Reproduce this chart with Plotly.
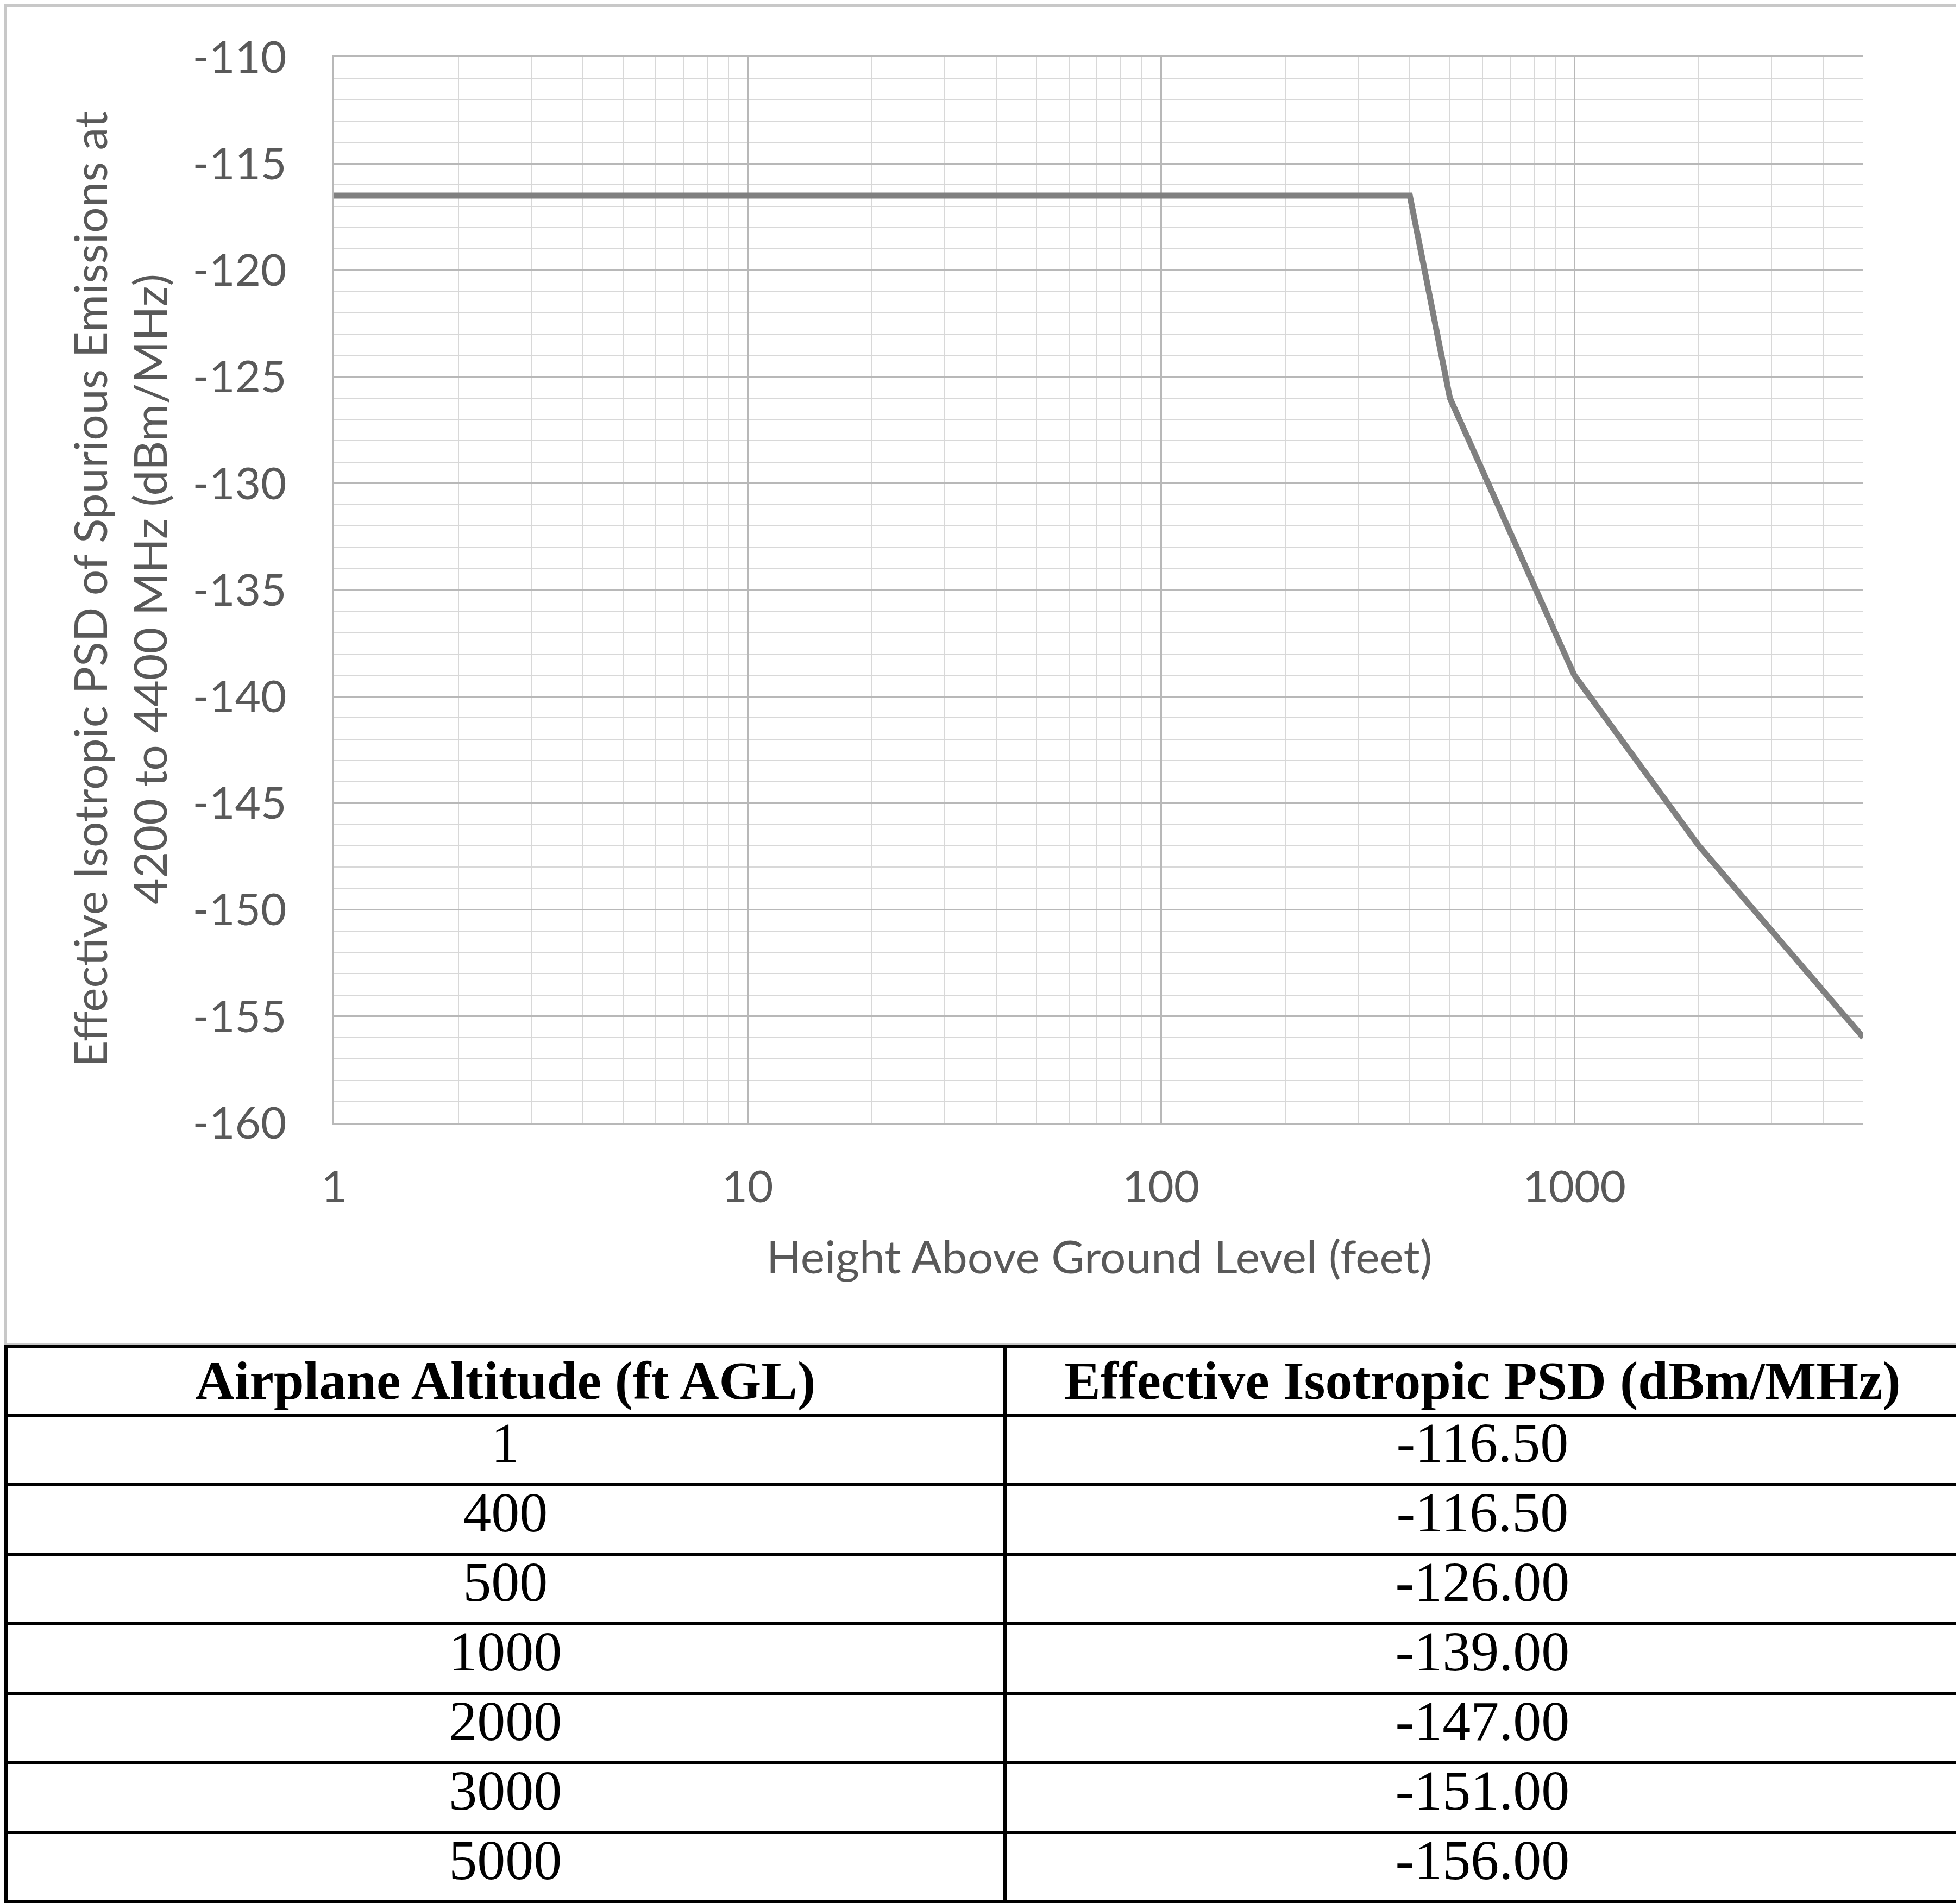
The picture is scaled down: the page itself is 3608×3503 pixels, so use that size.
import math
import plotly.graph_objects as go

# data (from the table under the chart)
altitude_ft = [1, 400, 500, 1000, 2000, 3000, 5000]
psd_dbm_mhz = [-116.5, -116.5, -126.0, -139.0, -147.0, -151.0, -156.0]
y_ticks = [-110, -115, -120, -125, -130, -135, -140, -145, -150, -155, -160]
x_ticks = [1, 10, 100, 1000]

table_header = ["<b>Airplane Altitude (ft AGL)</b>", "<b>Effective Isotropic PSD (dBm/MHz)</b>"]
alt_text = [str(a) for a in altitude_ft]
psd_text = ["%.2f" % v for v in psd_dbm_mhz]

W, H = 3608, 3503
chart_font = "Lato"
table_font = "Liberation Serif"
major = "#b8b8b8"
minor = "#d8d8d8"

fig = go.Figure()

fig.add_trace(go.Scatter(
    x=altitude_ft, y=psd_dbm_mhz,
    mode="lines",
    line=dict(color="#808080", width=11),
    showlegend=False,
    xaxis="x", yaxis="y"))

fig.add_trace(go.Table(
    domain=dict(x=[0.0008, 0.9978], y=[0.0005, 1 - 2470 / H]),
    columnwidth=[1841, 1760],
    header=dict(values=table_header,
                align="center",
                height=120,
                font=dict(family=table_font, size=100, color="black"),
                line=dict(color="black", width=6),
                fill=dict(color="white")),
    cells=dict(values=[alt_text, psd_text],
               align="center",
               height=128,
               font=dict(family=table_font, size=104, color="black"),
               line=dict(color="black", width=6),
               fill=dict(color="white"))))

fig.update_layout(
    template="none",
    width=W, height=H,
    margin=dict(l=0, r=0, t=0, b=0, pad=0),
    paper_bgcolor="white",
    plot_bgcolor="white",
    font=dict(family=chart_font, color="#595959"),
    xaxis=dict(
        type="log",
        automargin=False,
        domain=[607 / W, 3422 / W],
        range=[0, math.log10(5000)],
        tickvals=x_ticks,
        ticktext=[str(t) for t in x_ticks],
        tickfont=dict(size=82, color="#595959"),
        ticks="",
        ticklabelstandoff=45,
        showline=True, linecolor=major, linewidth=3, mirror=True,
        zeroline=False,
        showgrid=True, gridcolor=major, gridwidth=3,
        minor=dict(dtick="D1", showgrid=True, gridcolor=minor, gridwidth=2),
    ),
    yaxis=dict(
        automargin=False,
        domain=[1 - 2059 / H, 1 - 97 / H],
        range=[-160, -110],
        tickvals=y_ticks,
        ticktext=[str(t) for t in y_ticks],
        tickfont=dict(size=82, color="#595959"),
        ticks="",
        ticklabelstandoff=68,
        showline=True, linecolor=major, linewidth=3,
        zeroline=False,
        showgrid=True, gridcolor=major, gridwidth=3,
        minor=dict(dtick=1, showgrid=True, gridcolor=minor, gridwidth=2),
    ),
    shapes=[dict(type="rect", xref="paper", yref="paper",
                 x0=2 / W, x1=3602 / W, y0=1 - 2466 / H, y1=1 - 2 / H,
                 line=dict(color="#c8c8c8", width=4), layer="below")],
    annotations=[
        dict(text="Height Above Ground Level (feet)", xref="paper", yref="paper",
             x=2015 / W, y=1 - 2303 / H, xanchor="center", yanchor="middle",
             showarrow=False, font=dict(size=84, color="#595959")),
        dict(text="Effective Isotropic PSD of Spurious Emissions at", xref="paper", yref="paper",
             x=156 / W, y=1 - 1077 / H, xanchor="center", yanchor="middle",
             showarrow=False, textangle=-90, font=dict(size=84, color="#595959")),
        dict(text="4200 to 4400 MHz (dBm/MHz)", xref="paper", yref="paper",
             x=266 / W, y=1 - 1077 / H, xanchor="center", yanchor="middle",
             showarrow=False, textangle=-90, font=dict(size=84, color="#595959")),
    ],
)

fig.write_html("out.html")
